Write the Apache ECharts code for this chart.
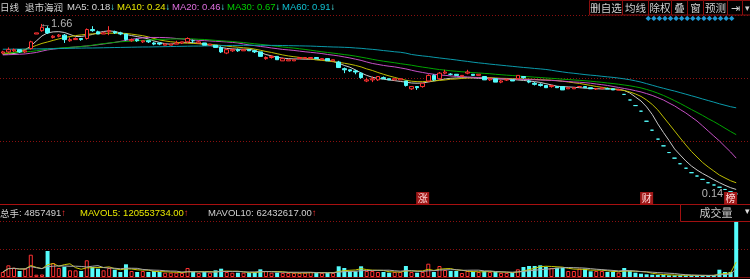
<!DOCTYPE html>
<html><head><meta charset="utf-8">
<script src="https://cdn.jsdelivr.net/npm/echarts@6/dist/echarts.min.js"></script>
<style>html,body{margin:0;padding:0;background:#000;}#c{width:750px;height:279px;}</style>
</head><body><div id="c"></div>
<script>
// ---- price data (daily OHLC) ----
const opens = [
1.40,1.41,1.42,1.43,1.41,1.44,1.57,1.60,1.62,1.54,
1.55,1.56,1.51,1.52,1.53,1.53,1.61,1.59,1.57,1.59,
1.59,1.58,1.57,1.51,1.52,1.50,1.51,1.49,1.49,1.47,
1.47,1.48,1.49,1.50,1.51,1.49,1.49,1.47,1.47,1.45,
1.40,1.42,1.43,1.42,1.43,1.42,1.41,1.35,1.36,1.37,
1.33,1.33,1.33,1.35,1.35,1.35,1.36,1.34,1.35,1.33,
1.32,1.26,1.25,1.24,1.22,1.15,1.16,1.16,1.18,1.17,
1.16,1.16,1.15,1.08,1.10,1.10,1.15,1.20,1.17,1.22,
1.21,1.21,1.19,1.22,1.21,1.20,1.19,1.16,1.17,1.14,
1.16,1.16,1.17,1.19,1.15,1.13,1.12,1.11,1.10,1.10,
1.10,1.08,1.08,1.10,1.10,1.09,1.08,1.08,1.08,1.08,
1.07,1.03,0.98,0.93,0.88,0.79,0.71,0.63,0.57,0.51,
0.46,0.41,0.37,0.33,0.30,0.27,0.24,0.22,0.20,0.18,
0.16,0.14];
const closes = [
1.41,1.43,1.43,1.41,1.42,1.50,1.58,1.63,1.58,1.55,
1.56,1.52,1.52,1.53,1.52,1.61,1.60,1.57,1.58,1.60,
1.58,1.57,1.52,1.52,1.51,1.51,1.50,1.48,1.48,1.48,
1.48,1.49,1.50,1.53,1.51,1.50,1.47,1.48,1.45,1.41,
1.43,1.43,1.42,1.43,1.42,1.41,1.37,1.36,1.37,1.34,
1.35,1.34,1.34,1.36,1.36,1.36,1.35,1.35,1.33,1.34,
1.27,1.25,1.24,1.23,1.18,1.16,1.17,1.19,1.17,1.16,
1.17,1.17,1.11,1.10,1.09,1.13,1.20,1.16,1.22,1.23,
1.21,1.20,1.20,1.23,1.20,1.21,1.16,1.17,1.14,1.15,
1.16,1.15,1.20,1.18,1.14,1.12,1.11,1.09,1.11,1.09,
1.07,1.09,1.09,1.10,1.09,1.08,1.08,1.09,1.08,1.07,
1.07,1.03,0.98,0.93,0.88,0.79,0.71,0.63,0.57,0.51,
0.46,0.41,0.37,0.33,0.30,0.27,0.24,0.22,0.20,0.18,
0.16,0.14];
const lows = [
1.39,1.40,1.41,1.40,1.40,1.43,1.57,1.59,1.57,1.53,
1.54,1.49,1.50,1.52,1.51,1.52,1.59,1.57,1.57,1.56,
1.57,1.56,1.51,1.50,1.50,1.49,1.49,1.47,1.47,1.47,
1.47,1.48,1.48,1.49,1.49,1.49,1.47,1.47,1.45,1.40,
1.39,1.41,1.41,1.42,1.42,1.40,1.37,1.34,1.35,1.34,
1.33,1.33,1.33,1.35,1.35,1.35,1.35,1.34,1.33,1.33,
1.27,1.22,1.23,1.21,1.17,1.14,1.14,1.15,1.17,1.16,
1.16,1.16,1.10,1.07,1.07,1.09,1.14,1.15,1.16,1.21,
1.20,1.20,1.19,1.21,1.20,1.20,1.16,1.15,1.14,1.13,
1.15,1.15,1.16,1.17,1.13,1.11,1.10,1.09,1.09,1.09,
1.07,1.08,1.08,1.09,1.09,1.08,1.07,1.08,1.08,1.07,
1.07,1.03,0.98,0.93,0.88,0.79,0.71,0.63,0.57,0.51,
0.46,0.41,0.37,0.33,0.30,0.27,0.24,0.22,0.20,0.18,
0.16,0.14];
const highs = [
1.42,1.45,1.44,1.43,1.43,1.51,1.58,1.66,1.64,1.56,
1.57,1.57,1.54,1.54,1.53,1.62,1.64,1.60,1.59,1.64,
1.60,1.59,1.57,1.53,1.53,1.51,1.51,1.50,1.49,1.49,
1.48,1.51,1.50,1.54,1.52,1.51,1.49,1.48,1.47,1.46,
1.44,1.44,1.44,1.43,1.43,1.43,1.41,1.37,1.38,1.37,
1.36,1.34,1.34,1.36,1.36,1.36,1.36,1.35,1.35,1.34,
1.33,1.27,1.25,1.25,1.23,1.18,1.19,1.19,1.19,1.17,
1.17,1.17,1.15,1.10,1.10,1.13,1.21,1.21,1.23,1.25,
1.22,1.21,1.20,1.25,1.21,1.21,1.19,1.18,1.17,1.16,
1.16,1.16,1.20,1.19,1.16,1.14,1.13,1.11,1.11,1.10,
1.10,1.09,1.09,1.10,1.10,1.09,1.08,1.09,1.09,1.08,
1.08,1.03,0.98,0.93,0.88,0.79,0.71,0.63,0.57,0.51,
0.46,0.41,0.37,0.33,0.30,0.27,0.24,0.22,0.20,0.18,
0.16,0.14];
// ---- volume (hands) ----
const volumes = [
434000,1015000,807000,520000,720000,1934000,200000,217000,2255000,1214000,
781000,893000,581000,578000,520000,1449000,867000,720000,581000,781000,
633000,434000,1102000,520000,434000,520000,434000,520000,434000,373000,
373000,373000,347000,781000,434000,347000,434000,373000,581000,720000,
434000,373000,373000,373000,347000,434000,668000,520000,373000,373000,
347000,347000,347000,347000,373000,434000,373000,347000,373000,347000,
928000,781000,494000,494000,928000,520000,520000,434000,434000,373000,
434000,434000,954000,434000,373000,434000,1154000,434000,954000,607000,
520000,520000,347000,520000,434000,434000,520000,434000,434000,347000,
347000,347000,668000,867000,954000,954000,1015000,867000,781000,807000,
807000,520000,520000,720000,720000,494000,520000,520000,434000,434000,
390000,781000,520000,373000,286000,234000,200000,173000,173000,147000,
147000,147000,130000,130000,130000,130000,130000,173000,633000,434000,
434000,4857491];
// ---- moving average lines ----
const ma5 = [
1.387,1.392,1.396,1.405,1.428,1.463,1.508,1.553,1.580,1.589,
1.591,1.584,1.566,1.548,1.548,1.556,1.566,1.582,1.593,1.598,
1.593,1.580,1.566,1.556,1.547,1.538,1.526,1.508,1.495,1.483,
1.479,1.486,1.495,1.496,1.492,1.486,1.477,1.468,1.459,1.450,
1.441,1.437,1.434,1.434,1.434,1.423,1.405,1.387,1.374,1.362,
1.354,1.350,1.347,1.347,1.345,1.345,1.344,1.340,1.334,1.325,
1.309,1.289,1.273,1.249,1.222,1.200,1.183,1.173,1.166,1.159,
1.153,1.146,1.140,1.132,1.130,1.132,1.141,1.150,1.159,1.168,
1.174,1.177,1.179,1.179,1.177,1.174,1.173,1.170,1.168,1.168,
1.166,1.164,1.159,1.155,1.150,1.144,1.137,1.126,1.115,1.103,
1.099,1.097,1.094,1.090,1.086,1.083,1.081,1.079,1.079,1.077,
1.076,1.065,1.043,1.007,0.971,0.918,0.851,0.766,0.690,0.618,
0.542,0.488,0.435,0.390,0.354,0.323,0.296,0.267,0.241,0.217,
0.196,0.180];
const ma10 = [
1.392,1.396,1.405,1.419,1.432,1.450,1.468,1.486,1.499,1.513,
1.526,1.538,1.547,1.556,1.562,1.568,1.571,1.573,1.575,1.577,
1.577,1.577,1.575,1.569,1.562,1.555,1.544,1.530,1.517,1.508,
1.501,1.496,1.490,1.488,1.486,1.483,1.481,1.477,1.472,1.468,
1.462,1.456,1.452,1.447,1.443,1.435,1.425,1.414,1.405,1.394,
1.383,1.374,1.367,1.361,1.353,1.347,1.338,1.334,1.329,1.322,
1.316,1.309,1.300,1.289,1.276,1.258,1.244,1.226,1.210,1.195,
1.182,1.168,1.157,1.148,1.144,1.144,1.148,1.150,1.155,1.159,
1.166,1.168,1.173,1.177,1.180,1.182,1.182,1.180,1.177,1.174,
1.173,1.171,1.170,1.168,1.166,1.164,1.161,1.159,1.157,1.153,
1.148,1.141,1.134,1.128,1.119,1.110,1.101,1.094,1.086,1.079,
1.072,1.065,1.052,1.034,1.012,0.980,0.940,0.891,0.828,0.766,
0.703,0.640,0.578,0.520,0.470,0.421,0.381,0.345,0.309,0.283,
0.258,0.240];
const ma20 = [
1.383,1.385,1.387,1.389,1.392,1.398,1.405,1.417,1.428,1.435,
1.441,1.445,1.450,1.454,1.459,1.463,1.468,1.474,1.481,1.488,
1.495,1.504,1.513,1.522,1.530,1.535,1.539,1.539,1.539,1.538,
1.535,1.530,1.526,1.522,1.517,1.513,1.511,1.508,1.505,1.502,
1.499,1.495,1.490,1.481,1.472,1.466,1.459,1.453,1.445,1.439,
1.432,1.428,1.423,1.417,1.411,1.406,1.401,1.395,1.387,1.381,
1.374,1.365,1.356,1.345,1.334,1.320,1.307,1.298,1.289,1.282,
1.276,1.267,1.258,1.246,1.235,1.226,1.217,1.210,1.204,1.200,
1.195,1.191,1.189,1.186,1.183,1.181,1.177,1.174,1.173,1.170,
1.168,1.166,1.166,1.164,1.162,1.161,1.159,1.157,1.155,1.152,
1.148,1.145,1.141,1.139,1.135,1.130,1.123,1.117,1.110,1.101,
1.092,1.083,1.074,1.063,1.052,1.037,1.021,1.001,0.980,0.953,
0.927,0.895,0.864,0.828,0.792,0.748,0.703,0.658,0.614,0.564,
0.515,0.460];
const ma30 = [
1.401,1.402,1.404,1.407,1.410,1.414,1.420,1.428,1.435,1.440,
1.444,1.447,1.451,1.454,1.458,1.463,1.470,1.478,1.484,1.490,
1.496,1.500,1.504,1.507,1.510,1.513,1.516,1.519,1.522,1.523,
1.525,1.526,1.527,1.527,1.526,1.523,1.521,1.517,1.513,1.510,
1.506,1.503,1.498,1.494,1.488,1.483,1.478,1.472,1.466,1.460,
1.454,1.449,1.444,1.438,1.432,1.425,1.418,1.411,1.405,1.399,
1.393,1.386,1.380,1.372,1.363,1.354,1.344,1.335,1.327,1.320,
1.313,1.305,1.298,1.291,1.282,1.274,1.267,1.259,1.252,1.247,
1.241,1.237,1.232,1.229,1.225,1.222,1.218,1.215,1.210,1.206,
1.202,1.199,1.195,1.191,1.188,1.184,1.181,1.177,1.174,1.170,
1.166,1.163,1.159,1.156,1.152,1.148,1.143,1.138,1.132,1.127,
1.121,1.114,1.107,1.098,1.088,1.074,1.059,1.041,1.021,0.998,
0.974,0.949,0.922,0.895,0.869,0.842,0.813,0.787,0.758,0.728,
0.698,0.670];
const ma60 = [
1.434,1.434,1.435,1.435,1.436,1.437,1.437,1.437,1.438,1.439,
1.440,1.441,1.442,1.443,1.444,1.445,1.445,1.446,1.447,1.448,
1.449,1.450,1.451,1.452,1.453,1.454,1.454,1.455,1.456,1.457,
1.458,1.459,1.460,1.461,1.462,1.462,1.463,1.464,1.465,1.466,
1.467,1.468,1.468,1.469,1.469,1.469,1.469,1.469,1.468,1.468,
1.467,1.466,1.465,1.464,1.463,1.462,1.460,1.458,1.456,1.454,
1.453,1.451,1.449,1.445,1.442,1.437,1.433,1.428,1.422,1.417,
1.411,1.407,1.399,1.387,1.380,1.374,1.369,1.362,1.356,1.350,
1.344,1.338,1.331,1.325,1.318,1.312,1.307,1.301,1.296,1.291,
1.286,1.281,1.276,1.271,1.267,1.262,1.258,1.253,1.246,1.238,
1.231,1.224,1.219,1.213,1.207,1.202,1.198,1.192,1.187,1.182,
1.176,1.169,1.161,1.151,1.140,1.126,1.112,1.098,1.085,1.072,
1.060,1.046,1.032,1.018,1.004,0.989,0.975,0.961,0.946,0.933,
0.920,0.910];
// ---- texts ----
const stockName = '退市海润';
const periodLabel = '日线';
const mavol5Text = '120553734.00';
const mavol10Text = '62432617.00';
const buttonLabels = ['删自选','均线','除权','叠','窗','预测','⇥','▾'];
// event badges: [day index, text]
const badgeDays = [75, 115, 130];
const badgeTexts = ['涨', '财', '榜'];

// ---------------- rendering ----------------
const days = closes.map((_, i) => 'D' + (i + 1));
const UP = '#ff3232', DOWN = '#54fcfc';
const LATIN = '"Liberation Sans","Noto Sans CJK SC",sans-serif';
const CJK = '"Noto Sans CJK SC","Liberation Sans",sans-serif';
const priceMin = 0.05, priceMax = 1.74;

function isUp(i) {
  if (closes[i] > opens[i]) return true;
  if (closes[i] < opens[i]) return false;
  return i === 0 || closes[i] >= closes[i - 1];
}
const candleData = closes.map((c, i) => {
  const col = isUp(i) ? {color:'#000', color0:'#000', borderColor:UP, borderColor0:UP, borderColorDoji:UP}
                      : {color:DOWN, color0:DOWN, borderColor:DOWN, borderColor0:DOWN, borderColorDoji:DOWN};
  return {value:[opens[i], c, lows[i], highs[i]], itemStyle:col};
});
const volData = volumes.map((v, i) => isUp(i)
  ? {value:v, itemStyle:{color:'#000', borderColor:UP, borderWidth:1}}
  : {value:v, itemStyle:{color:DOWN, borderColor:DOWN, borderWidth:0}});
function movingAvg(arr, n) {
  return arr.map((_, i) => { const s = Math.max(0, i - n + 1); let t = 0; for (let k = s; k <= i; k++) t += arr[k]; return Math.round(t / (i - s + 1)); });
}
const mavol5 = movingAvg(volumes, 5);
const mavol10 = movingAvg(volumes, 10);

const hiIdx = highs.indexOf(Math.max(...highs));
const loIdx = lows.lastIndexOf(Math.min(...lows));
const last = a => a[a.length - 1].toFixed(2);

function rtxt(x, y, parts, size) {
  const rich = {}; let s = '';
  parts.forEach((p, k) => { rich['p' + k] = {fill:p[1], fontSize:p[3] || size, fontFamily:p[2] || LATIN}; s += '{p' + k + '|' + p[0] + '}'; });
  return {type:'text', x, y, z:100, silent:true, style:{text:s, rich, fontSize:size, fontFamily:LATIN, verticalAlign:'middle'}};
}
function txt(x, y, text, fill, size, family, align) {
  return {type:'text', x, y, z:100, silent:true, style:{text, fill, fontSize:size, fontFamily:family || LATIN, align:align || 'left', verticalAlign:'middle'}};
}

const graphics = [];
// header
graphics.push(txt(0, 7.5, periodLabel, '#d0d0d0', 9.5, CJK));
graphics.push(txt(25, 7.5, stockName, '#d0d0d0', 9.5, CJK));
const maHeads = [['MA5', ma5, '#d8d8d8', 67], ['MA10', ma10, '#e8e800', 117], ['MA20', ma20, '#e070e0', 172], ['MA30', ma30, '#00d000', 227], ['MA60', ma60, '#10c0d0', 282]];
maHeads.forEach(h => graphics.push(rtxt(h[3], 7.5, [[h[0] + ': ' + last(h[1]), h[2]], ['↓', DOWN]], 9.5)));
// buttons
const edges = [589, 622, 648, 671, 687, 703, 727, 742, 752];
buttonLabels.forEach((b, k) => {
  graphics.push({type:'rect', z:99, silent:true, shape:{x:edges[k] + 0.5, y:0.5, width:edges[k + 1] - edges[k], height:14.5}, style:{fill:'#000', stroke:'#8a0e0e', lineWidth:1}});
  graphics.push(txt((edges[k] + edges[k + 1]) / 2 + 0.5, 8, b, '#d0d0d0', k === 7 ? 9 : 10.5, CJK, 'center'));
});
// diamonds row
for (let k = 0; k < 16; k++) {
  const cx = 648.3 + k * 5.56;
  graphics.push({type:'polygon', z:100, silent:true, shape:{points:[[cx - 2.7, 18.4], [cx, 15.8], [cx + 2.7, 18.4], [cx, 21]]}, style:{fill:'#1e9ad6'}});
}
// volume panel header
graphics.push({type:'rect', z:99, silent:true, shape:{x:680.5, y:204.5, width:75, height:17}, style:{fill:'#000', stroke:'#a01010', lineWidth:1}});
graphics.push(txt(716, 213, '成交量', '#c8c8c8', 11, CJK, 'center'));
graphics.push(txt(747, 212, '▾', '#e0e0e0', 9, LATIN, 'center'));
graphics.push(rtxt(0, 213, [['总手', '#d0d0d0', CJK], [': ' + volumes[volumes.length - 1], '#d0d0d0'], ['↑', UP]], 9.5));
graphics.push(rtxt(80, 213, [['MAVOL5: ' + mavol5Text, '#e8e800'], ['↑', UP]], 9.5));
graphics.push(rtxt(208, 213, [['MAVOL10: ' + mavol10Text, '#d0d0d0'], ['↑', UP]], 9.5));

const lineS = (data, color, xi, yi) => ({type:'line', data, xAxisIndex:xi, yAxisIndex:yi, symbol:'none', silent:true, z:4, lineStyle:{width:1, color}});
const badgePoints = badgeDays.map((d, k) => ({
  coord:[days[d], priceMin], symbol:'rect', symbolSize:[13, 12], symbolOffset:[0, -6],
  itemStyle:{color:'#a01818'},
  label:{show:true, position:'inside', formatter:badgeTexts[k], color:'#ffd8d8', fontSize:10, fontFamily:CJK}
}));

const option = {
  backgroundColor:'#000',
  animation:false,
  grid:[
    {left:0, right:11, top:15, height:189},
    {left:0, right:11, top:221, height:56},
    {left:0, right:0, top:15, height:189},
    {left:0, right:0, top:221, height:56}
  ],
  xAxis:[
    {type:'category', gridIndex:0, data:days, boundaryGap:true, show:false},
    {type:'category', gridIndex:1, data:days, boundaryGap:true, show:false},
    {type:'value', gridIndex:2, min:0, max:1, axisLabel:{show:false}, axisTick:{show:false}, splitLine:{show:false}, axisLine:{show:true, lineStyle:{color:'#a81010', width:1}}},
    {type:'value', gridIndex:3, min:0, max:1, axisLabel:{show:false}, axisTick:{show:false}, splitLine:{show:false}, axisLine:{show:true, lineStyle:{color:'#7a0a0a', width:1}}}
  ],
  yAxis:[
    {type:'value', gridIndex:0, min:priceMin, max:priceMax, show:false},
    {type:'value', gridIndex:1, min:0, max:'dataMax', show:false},
    {type:'value', gridIndex:2, min:0, max:3, interval:1, axisLine:{show:false}, axisTick:{show:false}, axisLabel:{show:false}, splitLine:{show:true, lineStyle:{color:'#8a1010', type:[1, 2], width:1}}},
    {type:'value', gridIndex:3, min:0, max:2, interval:1, axisLine:{show:false}, axisTick:{show:false}, axisLabel:{show:false}, splitLine:{show:true, lineStyle:{color:'#8a1010', type:[1, 2], width:1}}}
  ],
  series:[
    {type:'candlestick', xAxisIndex:0, yAxisIndex:0, data:candleData, barWidth:4, z:5, silent:true,
      itemStyle:{borderWidth:1},
      markPoint:{silent:true, animation:false, z:20, data:[
        {coord:[days[hiIdx], highs[hiIdx]], symbol:'circle', symbolSize:0,
          label:{show:true, position:'right', distance:-2, formatter:'←' + highs[hiIdx].toFixed(2), color:'#b4b4b4', fontSize:11, fontFamily:LATIN}},
        {coord:[days[loIdx], lows[loIdx]], symbol:'circle', symbolSize:0,
          label:{show:true, position:'left', distance:13, formatter:lows[loIdx].toFixed(2), color:'#b4b4b4', fontSize:11, fontFamily:LATIN}}
      ].concat(badgePoints)}
    },
    lineS(ma5, '#c8c8c8', 0, 0),
    lineS(ma10, '#bcbc00', 0, 0),
    lineS(ma20, '#c450c4', 0, 0),
    lineS(ma30, '#00a400', 0, 0),
    lineS(ma60, '#0a9aaa', 0, 0),
    {type:'bar', xAxisIndex:1, yAxisIndex:1, data:volData, barWidth:4, silent:true, z:3},
    lineS(mavol5, '#c8c800', 1, 1),
    lineS(mavol10, '#a8a8a8', 1, 1)
  ],
  graphic:graphics
};
const chart = echarts.init(document.getElementById('c'), null, {renderer:'canvas'});
chart.setOption(option);
</script></body></html>
